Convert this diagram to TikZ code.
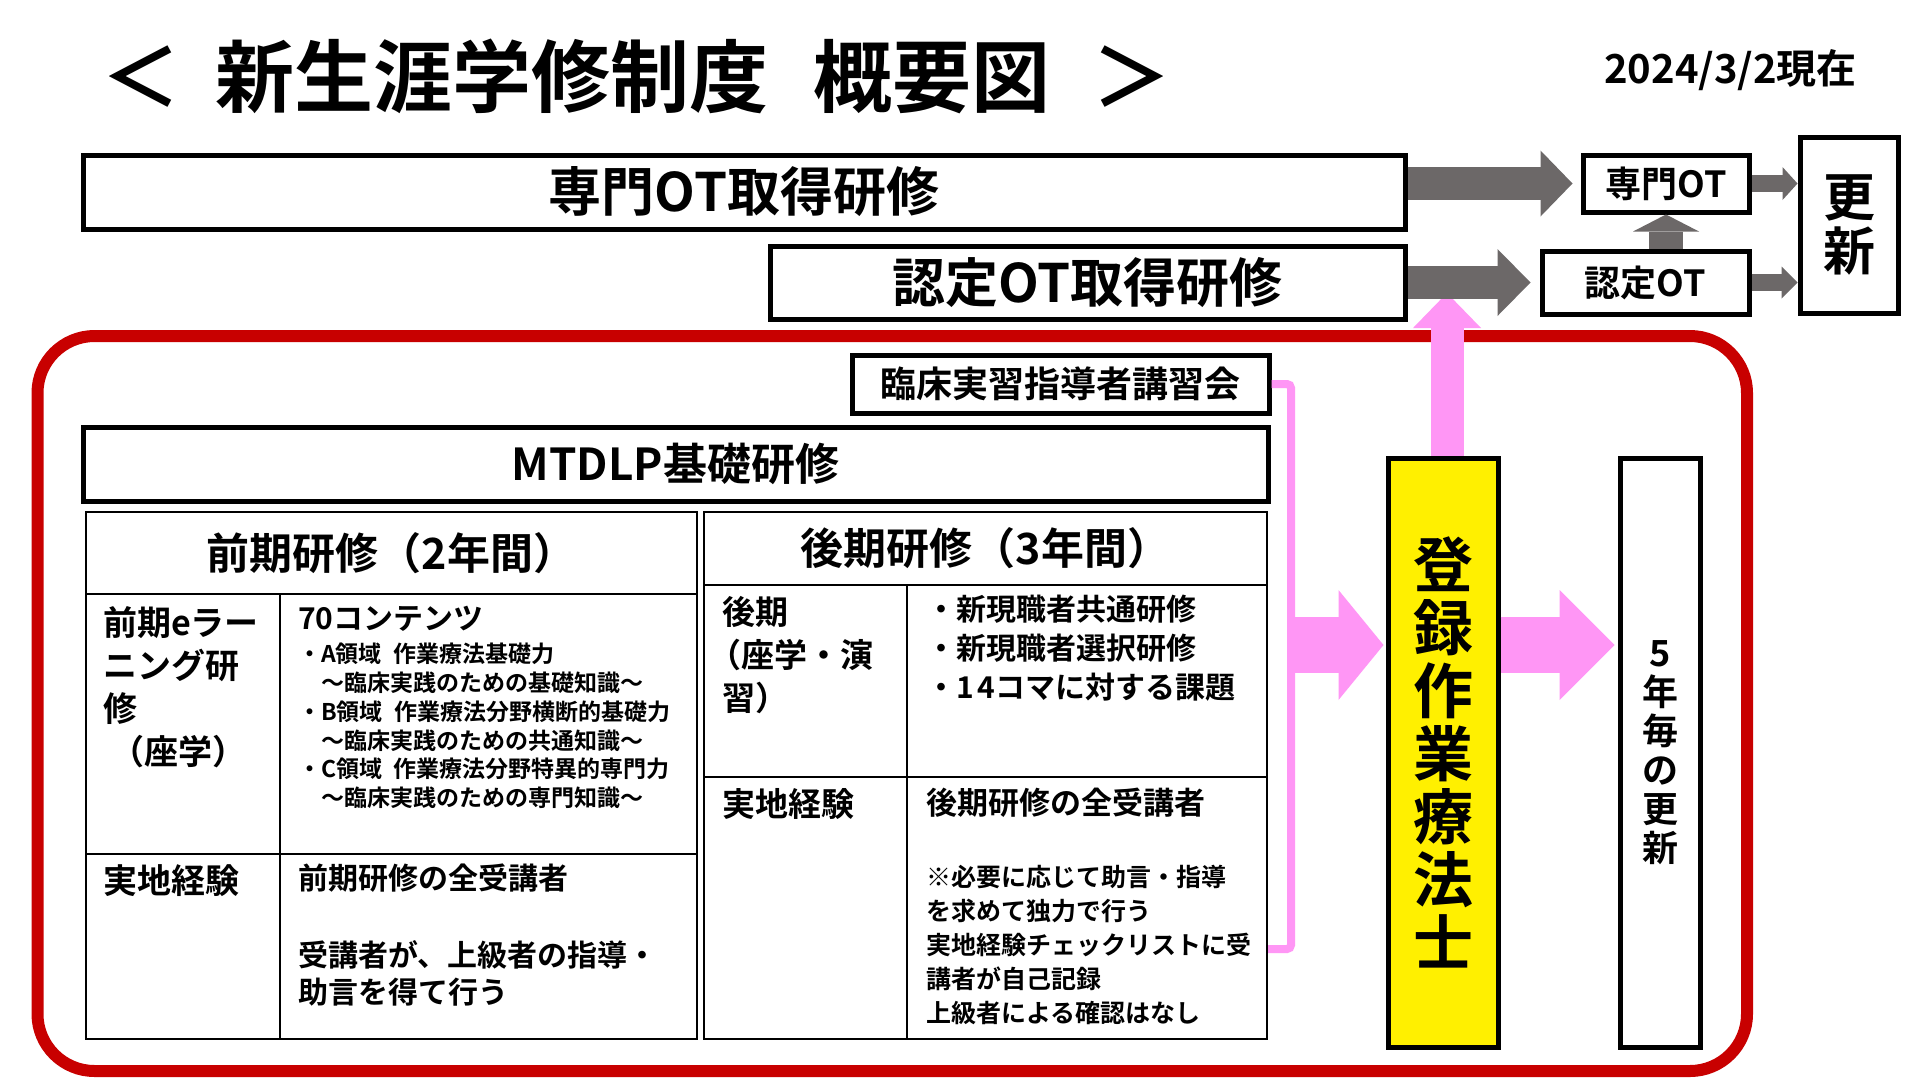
\documentclass[tikz,border=0pt]{standalone}
\usepackage{fontspec}
\setmainfont{Noto Sans CJK JP Bold}
\usetikzlibrary{calc,arrows.meta,positioning,fit}
\definecolor{frred}{RGB}{200,0,0}
\definecolor{arrgray}{RGB}{108,104,104}
\definecolor{lpink}{RGB}{255,150,245}
\definecolor{lyellow}{RGB}{255,240,0}
\newcommand{\fsz}[2]{\fontsize{#1}{#2}\selectfont}
\tikzset{
  box/.style={draw,line width=5pt,inner sep=0pt,align=center},
  cell/.style={draw,line width=2pt,inner sep=0pt},
  txt/.style={anchor=north west,inner sep=0pt,align=left},
  blockarrow/.style n args={4}{draw=#1,line width=#2,-{Triangle[length=#3,width=#4,line width=0pt]}},
  pinkline/.style={draw=lpink,line width=8pt,rounded corners=4pt}
}
\begin{document}
\begin{tikzpicture}[x=1pt,y=-1pt]
  \fill[white] (0,0) rectangle (1920,1080);
  \useasboundingbox (0,0) rectangle (1920,1080);

  \node[anchor=west,inner sep=0pt,font=\fsz{79}{79}] (title) at (101,76) {＜\hspace{35pt}新生涯学修制度\hspace{45pt}概要図\hspace{42pt}＞};
  \node[anchor=east,inner sep=0pt,font=\fsz{40}{40}] (date) at (1857,70) {2024/3/2現在};

  \node[box,minimum width=1322pt,minimum height=74pt,font=\fsz{53}{53}] (senmonK) at (744,192) {専門OT取得研修};
  \node[box,minimum width=635pt,minimum height=73pt,font=\fsz{53}{53}] (ninteiK) at (1087.5,282.5) {認定OT取得研修};
  \node[box,minimum width=166pt,minimum height=57pt,font=\fsz{36}{36}] (senOT) at (1666,183.5) {専門OT};
  \node[box,minimum width=207pt,minimum height=63pt,font=\fsz{36}{36}] (ninOT) at (1645.5,282.5) {認定OT};
  \node[box,minimum width=98pt,minimum height=176pt,font=\fsz{52}{54}] (koshin) at (1849,225) {更\\新};

  \node[draw=frred,line width=12pt,rounded corners=57pt,inner sep=0pt,fit={(37.5,336) (1747,1071)}] (frame) {};

  \node[box,minimum width=417pt,minimum height=58pt,font=\fsz{36}{36}] (rinsho) at (1060.5,384) {臨床実習指導者講習会};
  \node[box,minimum width=1185pt,minimum height=74pt,font=\fsz{44}{44}] (mtdlp) at (675.5,464) {MTDLP基礎研修};

  \node[cell,fit={(86,512) (697,594)}] (zh) {};
  \node[cell,fit={(86,594) (280,854)}] (zA) {};
  \node[cell,fit={(280,594) (697,854)}] (zB) {};
  \node[cell,fit={(86,854) (280,1039)}] (zC) {};
  \node[cell,fit={(280,854) (697,1039)}] (zD) {};
  \node[cell,fit={(704,512) (1267,585)}] (kh) {};
  \node[cell,fit={(704,585) (907,777)}] (kA) {};
  \node[cell,fit={(907,585) (1267,777)}] (kB) {};
  \node[cell,fit={(704,777) (907,1039)}] (kC) {};
  \node[cell,fit={(907,777) (1267,1039)}] (kD) {};

  \node[font=\fsz{43}{43}] at (zh.center) {前期研修（2年間）};
  \node[font=\fsz{43}{43}] at (kh.center) {後期研修（3年間）};
  \node[txt,font=\fsz{34}{43}] at (103,606) {前期eラー\\ニング研\\修\\\hspace{7pt}（座学）};
  \node[txt,font=\fsz{30}{30}] at (298,606) {70コンテンツ};
  \node[txt,font=\fsz{23}{28.8}] at (298,643) {・A領域\hspace{.5em}作業療法基礎力\\　～臨床実践のための基礎知識～\\・B領域\hspace{.5em}作業療法分野横断的基礎力\\　～臨床実践のための共通知識～\\・C領域\hspace{.5em}作業療法分野特異的専門力\\　～臨床実践のための専門知識～};
  \node[txt,font=\fsz{34}{43}] at (103,864) {実地経験};
  \node[txt,font=\fsz{30}{37}] at (298,864) {前期研修の全受講者\\[40pt]受講者が、上級者の指導・\\助言を得て行う};
  \node[txt,font=\fsz{33}{43}] at (722,596) {後期\\\hspace{-14pt}（座学・演\\習）};
  \node[txt,font=\fsz{30}{39}] at (926,595) {・新現職者共通研修\\・新現職者選択研修\\・1\hspace{4pt}4コマに対する課題};
  \node[txt,font=\fsz{33}{43}] at (722,788) {実地経験};
  \node[txt,font=\fsz{31}{37}] at (926,788) {後期研修の全受講者};
  \node[txt,font=\fsz{25}{34}] at (926,865) {※必要に応じて助言・指導\\を求めて独力で行う\\実地経験チェックリストに受\\講者が自己記録\\上級者による確認はなし};

  \node[box,fill=lyellow,minimum width=110pt,minimum height=589pt,font=\fsz{60}{63}] (touroku) at (1443,752.5) {登\\録\\作\\業\\療\\法\\士};
  \node[box,minimum width=80pt,minimum height=589pt,font=\fsz{36}{39}] (gonen) at (1660,752.5) {5\\年\\毎\\の\\更\\新};

  \coordinate (bk) at (1291,949);
  \coordinate (pk) at (1291,645);
  \coordinate (ptip) at (1447,293);
  \draw[pinkline] (rinsho.east) -| (bk) -- (bk -| kD.east);
  \draw[blockarrow={lpink}{56pt}{45pt}{110pt},shorten >=2pt] (pk) -- (pk -| touroku.west);
  \draw[blockarrow={lpink}{56pt}{55pt}{110pt},shorten >=3pt] (pk -| touroku.east) -- (pk -| gonen.west);
  \draw[blockarrow={lpink}{33pt}{35pt}{68pt}] (ptip |- touroku.north) -- (ptip);

  \draw[blockarrow={arrgray}{33pt}{32pt}{66pt},shorten >=8pt] (senmonK.east |- senOT.west) -- (senOT.west);
  \draw[blockarrow={arrgray}{33pt}{33pt}{67pt},shorten >=9pt] (ninteiK.east) -- (ninOT.west);
  \draw[blockarrow={arrgray}{34pt}{17pt}{66pt}] (senOT.south |- ninOT.north) -- (senOT.south);
  \draw[blockarrow={arrgray}{17pt}{15pt}{33pt}] (senOT.east) -- (koshin.west |- senOT.east);
  \draw[blockarrow={arrgray}{17pt}{16pt}{32pt}] (ninOT.east) -- (koshin.west |- ninOT.east);
\end{tikzpicture}
\end{document}
